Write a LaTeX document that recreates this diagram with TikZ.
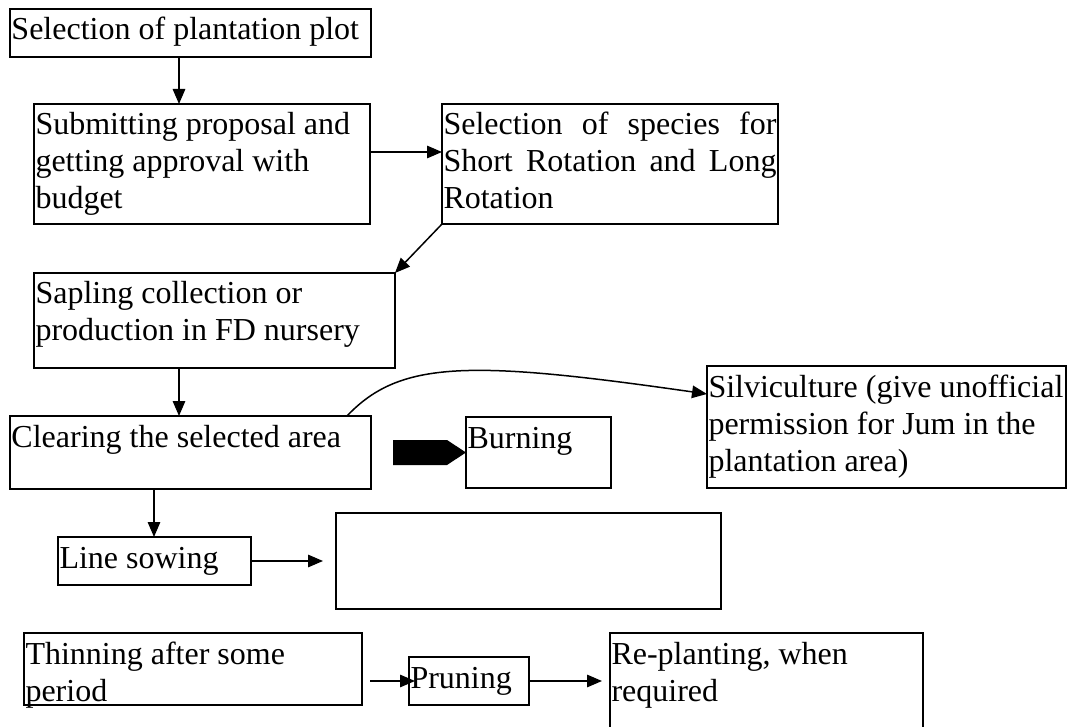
\documentclass[tikz,border=0pt]{standalone}
\usepackage{fontspec}
\setmainfont{Liberation Serif}
\usetikzlibrary{arrows.meta,calc}

% A ruled text box: name, left, top, width, height, text (top aligned)
\newcommand\flowbox[6]{%
  \node[flowbox] (#1) at (#2,#3)
    {\parbox[t][#5pt][t]{\dimexpr #4pt-3pt\relax}{\rule{0pt}{31pt}#6}};}

\begin{document}
\begin{tikzpicture}[x=1pt,y=-1pt,
  flowbox/.style={draw, line width=1.5pt, anchor=north west,
    inner xsep=1.5pt, inner ysep=0pt, outer sep=0pt,
    font=\fontsize{32}{37}\selectfont},
  link/.style={line width=1.5pt, -{Triangle[length=15pt,width=12.5pt]}}]
\clip (0,0) rectangle (1068,727);
\fill[white] (0,0) rectangle (1068,727);

% boxes
\flowbox{plot}{10}{9}{361}{48}{Selection of plantation plot}
\flowbox{prop}{34}{104}{336}{120}{Submitting proposal and\\getting approval with\\budget}
\flowbox{species}{442}{104}{336}{120}{%
  \makebox[\linewidth][s]{Selection of species for}\\
  \makebox[\linewidth][s]{Short Rotation and Long}\\
  Rotation}
\flowbox{sapling}{34}{273}{361}{95}{Sapling collection or\\production in FD nursery}
\flowbox{clear}{10}{416}{361}{73}{Clearing the selected area}
\flowbox{burn}{466}{417}{145}{71}{Burning}
\flowbox{silvi}{707}{366}{359}{122}{Silviculture (give unofficial\\permission for Jum in the\\plantation area)}
\flowbox{sow}{58}{537}{193}{48}{Line sowing}
\flowbox{blank}{336}{513}{385}{96}{}
\flowbox{thin}{24}{633}{338}{72}{Thinning after some\\period}
\flowbox{prune}{409}{657}{120}{48}{Pruning}
\flowbox{replant}{610}{633}{313}{110}{Re-planting, when\\required}

% connectors
\coordinate (c1) at ($(plot.south west)+(169,0)$);
\draw[link] (c1) -- (c1 |- prop.north);
\coordinate (c2) at ($(prop.north east)+(0,48)$);
\draw[link] (c2) -- (c2 -| species.west);
\draw[link] (species.south west) -- (sapling.north east);
\coordinate (c3) at ($(sapling.south west)+(145,0)$);
\draw[link] (c3) -- (c3 |- clear.north);
\coordinate (c4) at ($(clear.south west)+(144,0)$);
\draw[link] (c4) -- (c4 |- sow.north);
\draw[link] ($(clear.north west)+(337,0)$)
  .. controls (400,360) and (470,360) .. ($(silvi.north west)+(0,28)$);
% block arrow pointing at the burning step
\fill (burn.west) -- ++(-19,-12.5) -- ++(-54,0) -- ++(0,25) -- ++(54,0) -- cycle;
\draw[link] (sow.east) -- ($(blank.west |- sow.east)+(-13,0)$);
\draw[link] ($(thin.east |- prune.west)+(8,0)$) -- ($(prune.west)+(6,0)$);
\draw[link] (prune.east) -- ($(prune.east -| replant.west)+(-8,0)$);
\end{tikzpicture}
\end{document}
